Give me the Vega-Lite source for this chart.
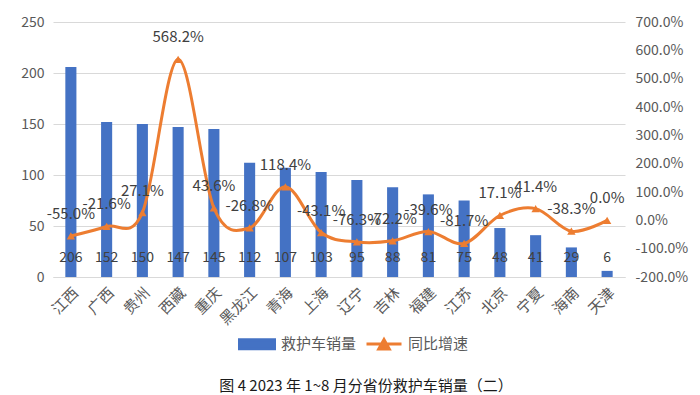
{
  "$schema": "https://vega.github.io/schema/vega-lite/v6.json",
  "autosize": {"type": "none"},
  "width": 572,
  "height": 255,
  "padding": {"left": 53, "top": 22, "right": 75, "bottom": 118},
  "background": "white",
  "data": {
    "values": [
      {"p": "江西", "n": 206, "g": -0.55},
      {"p": "广西", "n": 152, "g": -0.216},
      {"p": "贵州", "n": 150, "g": 0.271},
      {"p": "西藏", "n": 147, "g": 5.682},
      {"p": "重庆", "n": 145, "g": 0.436},
      {"p": "黑龙江", "n": 112, "g": -0.268},
      {"p": "青海", "n": 107, "g": 1.184},
      {"p": "上海", "n": 103, "g": -0.431},
      {"p": "辽宁", "n": 95, "g": -0.763},
      {"p": "吉林", "n": 88, "g": -0.722},
      {"p": "福建", "n": 81, "g": -0.396},
      {"p": "江苏", "n": 75, "g": -0.817},
      {"p": "北京", "n": 48, "g": 0.171},
      {"p": "宁夏", "n": 41, "g": 0.414},
      {"p": "海南", "n": 29, "g": -0.383},
      {"p": "天津", "n": 6, "g": 0.0}
    ]
  },
  "title": {
    "text": "图 4 2023 年 1~8 月分省份救护车销量（二）",
    "orient": "bottom",
    "anchor": "middle",
    "dx": 27,
    "dy": 4,
    "offset": 20,
    "font": "Noto Sans CJK SC",
    "fontSize": 15,
    "fontWeight": "normal",
    "color": "#1a1a1a"
  },
  "config": {
    "locale": {
      "number": {"decimal": ".", "thousands": ",", "grouping": [3], "currency": ["", ""], "minus": "-", "percent": "%"}
    },
    "view": {"stroke": null},
    "font": "Noto Sans CJK SC",
    "axis": {
      "labelFont": "Noto Sans CJK SC",
      "labelColor": "#595959",
      "labelFontSize": 14,
      "ticks": false,
      "title": null
    }
  },
  "encoding": {
    "x": {
      "field": "p",
      "type": "nominal",
      "sort": null,
      "scale": {"paddingInner": 0.69, "paddingOuter": 0.345},
      "axis": {
        "labelAngle": -45,
        "labelFontSize": 15,
        "labelPadding": 8,
        "domain": true,
        "domainColor": "#D9D9D9",
        "domainWidth": 1,
        "grid": false
      }
    }
  },
  "layer": [
    {
      "encoding": {
        "y": {
          "field": "n",
          "type": "quantitative",
          "scale": {"domain": [0, 250], "nice": false},
          "axis": {
            "values": [0, 50, 100, 150, 200, 250],
            "grid": true,
            "gridColor": "#D9D9D9",
            "domain": false,
            "labelPadding": 9
          }
        }
      },
      "layer": [
        {
          "mark": {"type": "bar", "color": "#4472C4"},
          "encoding": {
            "color": {
              "datum": "救护车销量",
              "type": "nominal",
              "scale": {"domain": ["救护车销量", "同比增速"], "range": ["#4472C4", "#ED7D31"]},
              "legend": {
                "orient": "none",
                "legendX": 185,
                "legendY": 303,
                "direction": "horizontal",
                "title": null,
                "labelFont": "Noto Sans CJK SC",
                "labelFontSize": 15,
                "labelColor": "#595959",
                "labelOffset": 5,
                "columnPadding": 3,
                "symbolSize": 1225,
                "symbolType": "M-1,-0.26H1V0.26H-1Z",
                "encode": {
                  "symbols": {
                    "update": {
                      "shape": {"signal": "datum.value === '救护车销量' ? 'M-1,-0.26H1V0.26H-1Z' : 'M-1,0H1M-0.3,0.28L0,-0.26L0.3,0.28Z'"},
                      "fill": {"signal": "datum.value === '救护车销量' ? '#4472C4' : '#ED7D31'"},
                      "stroke": {"signal": "datum.value === '救护车销量' ? 'transparent' : '#ED7D31'"},
                      "strokeWidth": {"value": 3},
                      "opacity": {"value": 1},
                      "fillOpacity": {"value": 1},
                      "strokeOpacity": {"value": 1}
                    }
                  }
                }
              }
            }
          }
        },
        {
          "mark": {"type": "text", "dy": -19, "baseline": "middle", "fontSize": 14, "color": "#404040", "font": "Noto Sans CJK SC"},
          "encoding": {
            "y": {"datum": 0, "type": "quantitative"},
            "text": {"field": "n", "type": "quantitative"}
          }
        }
      ]
    },
    {
      "encoding": {
        "y": {
          "field": "g",
          "type": "quantitative",
          "scale": {"domain": [-2, 7], "nice": false},
          "axis": {
            "orient": "right",
            "values": [-2, -1, 0, 1, 2, 3, 4, 5, 6, 7],
            "format": ".1%",
            "labelOverlap": false,
            "grid": false,
            "domain": false,
            "labelPadding": 10
          }
        }
      },
      "layer": [
        {
          "mark": {"type": "line", "interpolate": "cardinal", "strokeWidth": 3},
          "encoding": {
            "color": {"datum": "同比增速", "type": "nominal"}
          }
        },
        {
          "mark": {"type": "point", "shape": "triangle-up", "filled": true, "size": 70, "opacity": 1},
          "encoding": {
            "color": {"datum": "同比增速", "type": "nominal"}
          }
        },
        {
          "mark": {"type": "text", "dy": -22, "baseline": "middle", "fontSize": 15, "color": "#404040", "font": "Noto Sans CJK SC"},
          "encoding": {
            "text": {"field": "g", "type": "quantitative", "format": ".1%"}
          }
        }
      ]
    }
  ],
  "resolve": {"scale": {"y": "independent"}}
}
